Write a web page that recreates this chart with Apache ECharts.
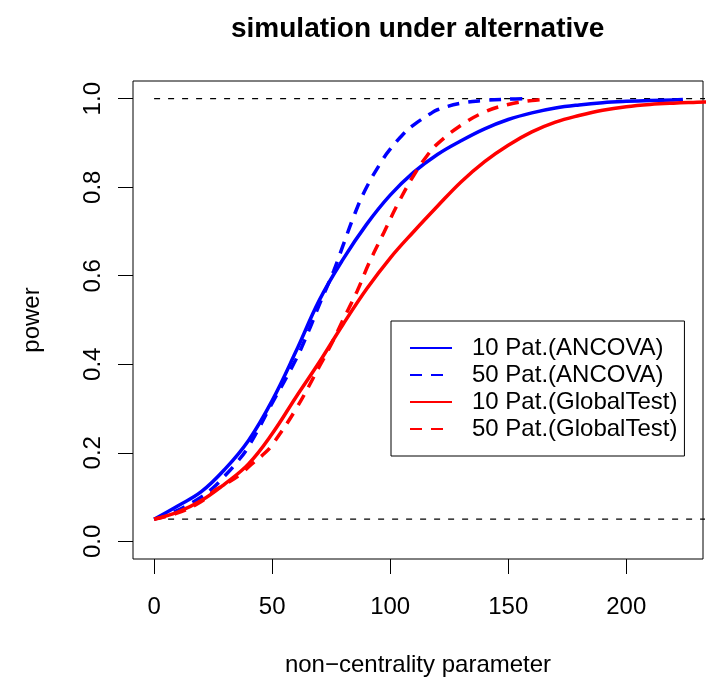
<!DOCTYPE html>
<html>
<head>
<meta charset="utf-8">
<script src="https://cdn.jsdelivr.net/npm/echarts@6/dist/echarts.min.js"></script>
<style>
html,body{margin:0;padding:0;background:#fff;overflow:hidden;}
#chart{width:710px;height:677px;}
</style>
</head>
<body>
<div id="chart"></div>
<script>
// ---- data ----
var titleText = "simulation under alternative";
var xAxisName = "non\u2212centrality parameter";
var yAxisName = "power";
var xTicks = [0, 50, 100, 150, 200];
var yTicks = [0, 0.2, 0.4, 0.6, 0.8, 1.0];
var seriesNames = ["10 Pat.(ANCOVA)", "50 Pat.(ANCOVA)", "10 Pat.(GlobalTest)", "50 Pat.(GlobalTest)"];

var ancova10X = [0, 10, 20, 30, 40, 50, 60, 70, 80, 90, 100, 110, 120, 130, 140, 150, 160, 170, 180, 190, 200, 210, 220, 224];
var ancova10Y = [0.05, 0.080, 0.112, 0.163, 0.228, 0.318, 0.428, 0.545, 0.637, 0.716, 0.782, 0.834, 0.874, 0.905, 0.932, 0.953, 0.968, 0.979, 0.986, 0.991, 0.994, 0.996, 0.997, 0.998];

var ancova50X = [0, 10, 20, 25, 30, 35, 40, 50, 60, 66, 70, 76, 80, 85, 90, 97, 100, 105, 110, 117, 120, 130, 140, 150, 157];
var ancova50Y = [0.05, 0.070, 0.100, 0.121, 0.148, 0.178, 0.214, 0.312, 0.410, 0.482, 0.535, 0.610, 0.668, 0.740, 0.800, 0.864, 0.886, 0.917, 0.941, 0.966, 0.975, 0.990, 0.996, 0.999, 1.0];

var global10X = [0, 10, 20, 30, 40, 50, 60, 70, 80, 90, 100, 110, 120, 130, 140, 150, 160, 170, 180, 190, 200, 210, 220, 230, 240];
var global10Y = [0.05, 0.066, 0.092, 0.130, 0.175, 0.243, 0.325, 0.405, 0.490, 0.570, 0.640, 0.700, 0.757, 0.812, 0.858, 0.895, 0.925, 0.947, 0.962, 0.974, 0.982, 0.987, 0.990, 0.992, 0.994];

var global50X = [0, 10, 20, 26, 30, 37, 40, 47, 50, 60, 70, 75, 80, 86, 91, 97, 103, 110, 116, 120, 130, 140, 150, 160, 166];
var global50Y = [0.05, 0.064, 0.090, 0.116, 0.128, 0.153, 0.168, 0.200, 0.218, 0.298, 0.395, 0.445, 0.500, 0.565, 0.628, 0.694, 0.760, 0.827, 0.874, 0.898, 0.940, 0.970, 0.987, 0.996, 0.999];

var refLevels = [1.0, 0.05];
var refX = [0, 240];

function pairs(xs, ys) { return xs.map(function (x, i) { return [x, ys[i]]; }); }

var FONT = "Liberation Sans, Arial, Helvetica, sans-serif";
var BLUE = "#0000FF", RED = "#FF0000";
var DASH = [12, 9];

var curveDefs = [
  { name: seriesNames[0], data: pairs(ancova10X, ancova10Y), color: BLUE, type: "solid" },
  { name: seriesNames[1], data: pairs(ancova50X, ancova50Y), color: BLUE, type: DASH },
  { name: seriesNames[2], data: pairs(global10X, global10Y), color: RED, type: "solid" },
  { name: seriesNames[3], data: pairs(global50X, global50Y), color: RED, type: DASH }
];

var series = [];
refLevels.forEach(function (lv) {
  series.push({
    type: "line", name: "ref" + lv, silent: true, symbol: "none",
    data: refX.map(function (x) { return [x, lv]; }),
    lineStyle: { color: "#000", width: 1.3, type: [6, 8] },
    z: 1
  });
});
curveDefs.forEach(function (c) {
  series.push({
    type: "line", name: c.name, symbol: "none", showSymbol: false,
    smooth: 0.4,
    data: c.data,
    color: c.color,
    lineStyle: { color: c.color, width: 3.5, type: c.type },
    z: 2
  });
});

var chart = echarts.init(document.getElementById("chart"), null, { renderer: "canvas" });
chart.setOption({
  animation: false,
  backgroundColor: "#fff",
  title: {
    text: titleText, left: 226, top: 10,
    textStyle: { fontFamily: FONT, fontSize: 28, fontWeight: "bold", color: "#000" }
  },
  grid: { left: 133, right: 7, top: 81, bottom: 118, show: true, borderColor: "#000", borderWidth: 1,
    backgroundColor: "transparent", outerBoundsMode: "none", containLabel: false },
  legend: {
    data: seriesNames, orient: "vertical", left: 391, top: 321,
    padding: [15, 7, 15, 18], itemGap: 3, itemWidth: 42, itemHeight: 14,
    borderColor: "#000", borderWidth: 1, backgroundColor: "#fff",
    selectedMode: false,
    itemStyle: { color: "transparent", borderWidth: 0, opacity: 0 },
    textStyle: { fontFamily: FONT, fontSize: 24, color: "#000", lineHeight: 24, padding: [0, 0, 0, 15] }
  },
  xAxis: {
    type: "value", min: -8.94, max: 232.5,
    name: xAxisName, nameLocation: "middle", nameGap: 94,
    nameTextStyle: { fontFamily: FONT, fontSize: 24, color: "#000" },
    axisLine: { show: false, onZero: false },
    axisTick: { show: true, inside: false, length: 15, customValues: xTicks, lineStyle: { color: "#000", width: 1 } },
    axisLabel: { customValues: xTicks, margin: 36, fontFamily: FONT, fontSize: 24, color: "#000" },
    splitLine: { show: false }
  },
  yAxis: {
    type: "value", min: -0.04, max: 1.04,
    name: yAxisName, nameLocation: "middle", nameGap: 89, nameRotate: 90,
    nameTextStyle: { fontFamily: FONT, fontSize: 24, color: "#000" },
    axisLine: { show: false, onZero: false },
    axisTick: { show: true, inside: false, length: 15, customValues: yTicks, lineStyle: { color: "#000", width: 1 } },
    axisLabel: { customValues: yTicks, rotate: 90, margin: 28, fontFamily: FONT, fontSize: 24, color: "#000",
      formatter: function (v) { return v.toFixed(1); } },
    splitLine: { show: false }
  },
  series: series
});
</script>
</body>
</html>
